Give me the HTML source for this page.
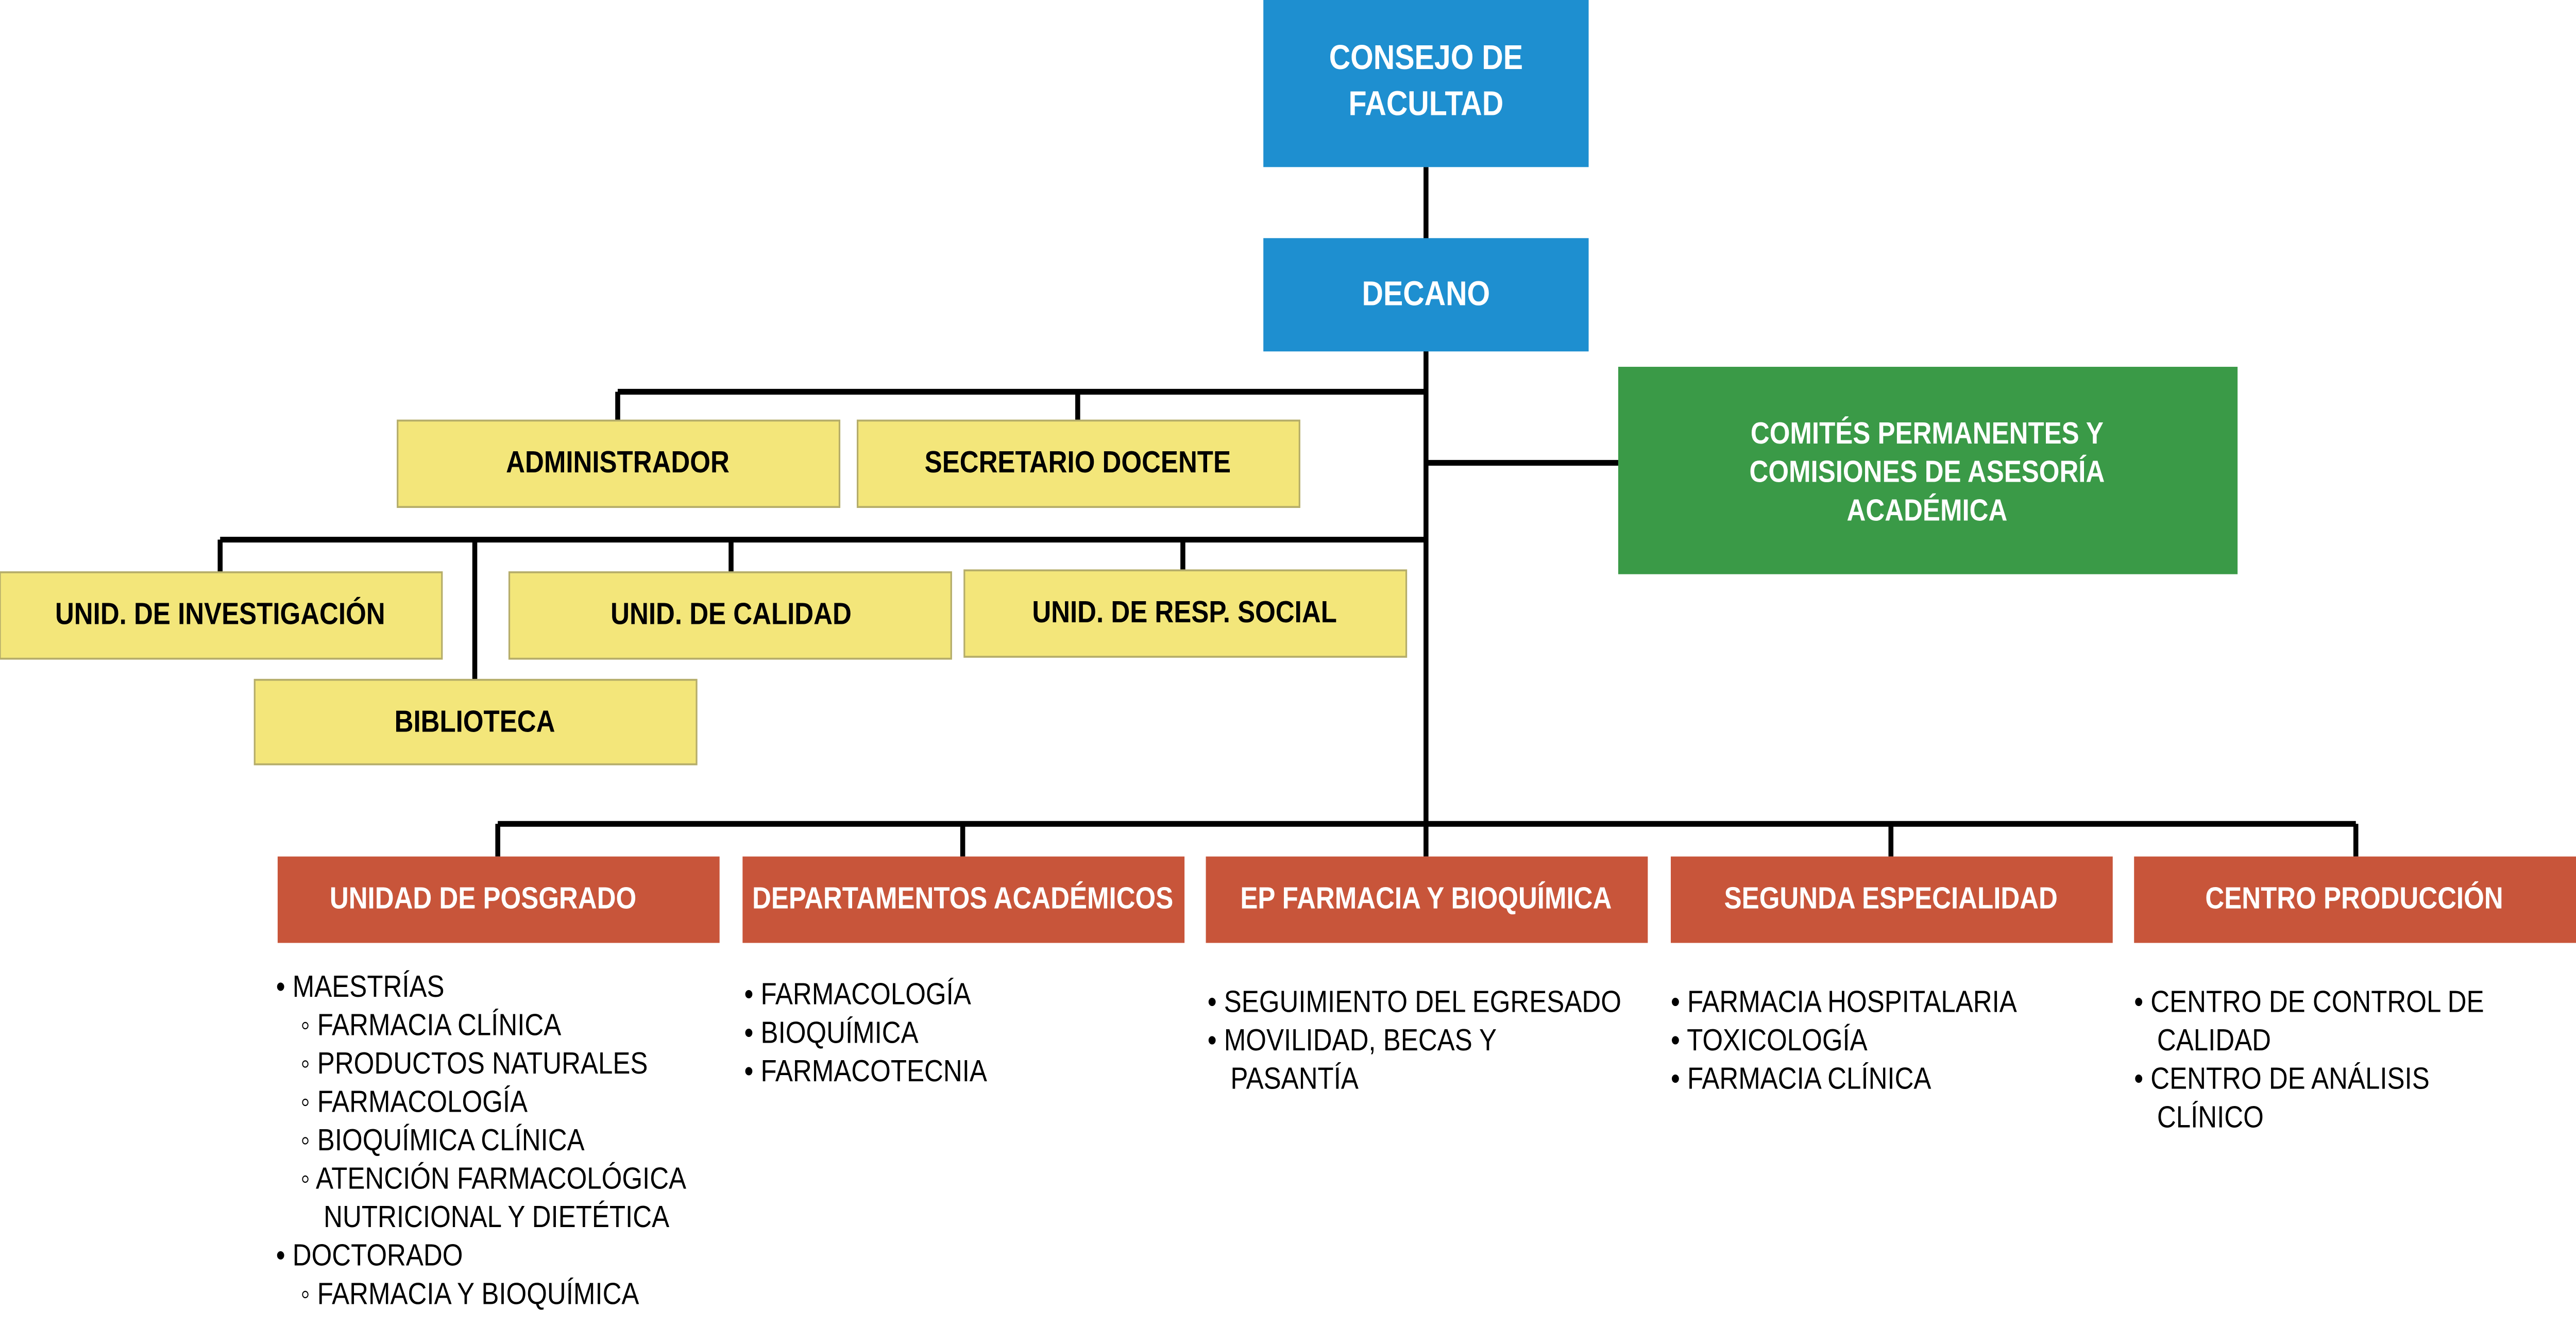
<!DOCTYPE html>
<html><head><meta charset="utf-8"><style>
html,body{margin:0;padding:0;background:#fff;width:100vw;height:100vh;overflow:hidden;}
svg{display:block;position:absolute;left:0;top:0;width:100vw;height:100vh;}
text{font-family:"Liberation Sans",sans-serif;}
.b{font-weight:bold;font-size:16px;fill:#000;text-anchor:middle;}
.w{font-weight:bold;fill:#fff;text-anchor:middle;}
.l{font-size:16px;fill:#000;}
</style></head><body>
<svg viewBox="0 0 1568 691" preserveAspectRatio="none" xmlns="http://www.w3.org/2000/svg">
<g stroke="#000" stroke-width="3" fill="none">
<line x1="868" y1="87" x2="868" y2="430"/>
<line x1="376" y1="204" x2="868" y2="204"/>
<line x1="376" y1="204" x2="376" y2="219"/>
<line x1="656" y1="204" x2="656" y2="219"/>
<line x1="868" y1="241" x2="985" y2="241"/>
<line x1="134" y1="281" x2="868" y2="281"/>
<line x1="134" y1="281" x2="134" y2="298"/>
<line x1="289" y1="281" x2="289" y2="354"/>
<line x1="445" y1="281" x2="445" y2="298"/>
<line x1="720" y1="281" x2="720" y2="297"/>
<line x1="303" y1="429" x2="1434" y2="429"/>
<line x1="303" y1="429" x2="303" y2="446"/>
<line x1="586" y1="429" x2="586" y2="446"/>
<line x1="868" y1="429" x2="868" y2="446"/>
<line x1="1151" y1="429" x2="1151" y2="446"/>
<line x1="1434" y1="429" x2="1434" y2="446"/>
</g>
<rect x="769" y="0" width="198" height="87" fill="#1e8fd0"/>
<text class="w" font-size="18" x="868" y="36">CONSEJO DE</text>
<text class="w" font-size="18" x="868" y="60">FACULTAD</text>
<rect x="769" y="124" width="198" height="59" fill="#1e8fd0"/>
<text class="w" font-size="18" x="868" y="159">DECANO</text>
<rect x="985" y="191" width="377" height="108" fill="#3a9a47"/>
<text class="w" font-size="16" x="1173" y="231">COMITÉS PERMANENTES Y</text>
<text class="w" font-size="16" x="1173" y="251">COMISIONES DE ASESORÍA</text>
<text class="w" font-size="16" x="1173" y="271">ACADÉMICA</text>
<g fill="#f3e67a" stroke="#b5ad6a" stroke-width="1">
<rect x="242" y="219" width="269" height="45"/>
<rect x="522" y="219" width="269" height="45"/>
<rect x="0" y="298" width="269" height="45"/>
<rect x="310" y="298" width="269" height="45"/>
<rect x="587" y="297" width="269" height="45"/>
<rect x="155" y="354" width="269" height="44"/>
</g>
<text class="b" x="376" y="246">ADMINISTRADOR</text>
<text class="b" x="656" y="246">SECRETARIO DOCENTE</text>
<text class="b" x="134" y="325">UNID. DE INVESTIGACIÓN</text>
<text class="b" x="445" y="325">UNID. DE CALIDAD</text>
<text class="b" x="721" y="324">UNID. DE RESP. SOCIAL</text>
<text class="b" x="289" y="381">BIBLIOTECA</text>
<g fill="#c8553a">
<rect x="169" y="446" width="269" height="45"/>
<rect x="452" y="446" width="269" height="45"/>
<rect x="734" y="446" width="269" height="45"/>
<rect x="1017" y="446" width="269" height="45"/>
<rect x="1299" y="446" width="269" height="45"/>
</g>
<text class="w" font-size="16" x="294" y="473">UNIDAD DE POSGRADO</text>
<text class="w" font-size="16" x="586" y="473">DEPARTAMENTOS ACADÉMICOS</text>
<text class="w" font-size="16" x="868" y="473">EP FARMACIA Y BIOQUÍMICA</text>
<text class="w" font-size="16" x="1151" y="473">SEGUNDA ESPECIALIDAD</text>
<text class="w" font-size="16" x="1433" y="473">CENTRO PRODUCCIÓN</text>
<text class="l" x="168" y="519">•  MAESTRÍAS</text>
<text class="l" x="183" y="539">◦  FARMACIA CLÍNICA</text>
<text class="l" x="183" y="559">◦  PRODUCTOS NATURALES</text>
<text class="l" x="183" y="579">◦  FARMACOLOGÍA</text>
<text class="l" x="183" y="599">◦  BIOQUÍMICA CLÍNICA</text>
<text class="l" x="183" y="619">◦  ATENCIÓN FARMACOLÓGICA</text>
<text class="l" x="197" y="639">NUTRICIONAL Y DIETÉTICA</text>
<text class="l" x="168" y="659">•  DOCTORADO</text>
<text class="l" x="183" y="679">◦  FARMACIA Y BIOQUÍMICA</text>
<text class="l" x="453" y="523">•  FARMACOLOGÍA</text>
<text class="l" x="453" y="543">•  BIOQUÍMICA</text>
<text class="l" x="453" y="563">•  FARMACOTECNIA</text>
<text class="l" x="735" y="527">•  SEGUIMIENTO DEL EGRESADO</text>
<text class="l" x="735" y="547">•  MOVILIDAD, BECAS Y</text>
<text class="l" x="749" y="567">PASANTÍA</text>
<text class="l" x="1017" y="527">•  FARMACIA HOSPITALARIA</text>
<text class="l" x="1017" y="547">•  TOXICOLOGÍA</text>
<text class="l" x="1017" y="567">•  FARMACIA CLÍNICA</text>
<text class="l" x="1299" y="527">•  CENTRO DE CONTROL DE</text>
<text class="l" x="1313" y="547">CALIDAD</text>
<text class="l" x="1299" y="567">•  CENTRO DE ANÁLISIS</text>
<text class="l" x="1313" y="587">CLÍNICO</text>
</svg>
</body></html>
